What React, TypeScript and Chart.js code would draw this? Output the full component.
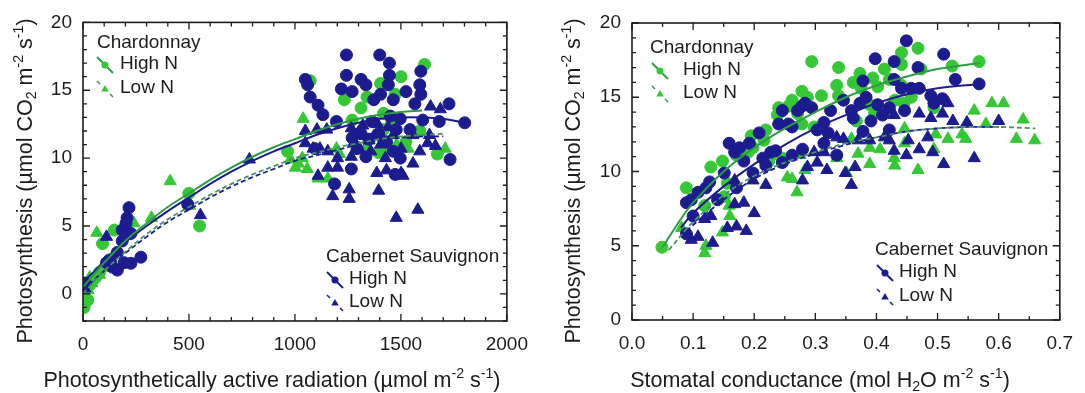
import React, { useEffect, useRef } from "react";
import { Chart, registerables } from "chart.js";

Chart.register(...registerables);

const FONT = "'Liberation Sans', Arial, Helvetica, sans-serif";
const GREEN = "#35c735";
const BLUE = "#1c1c8f";
const GREEN_LINE = "#2c9c46";
const GREEN_DASH = "#4b8f68";
const BLUE_LINE = "#1c1c8c";
const INK = "#1c1c1c";

// ---------- Panel A: photosynthesis vs PAR ----------
const parTicks = [0, 500, 1000, 1500, 2000];
const photoTicksA = [0, 5, 10, 15, 20];

const parChHighX = [5, 9, 14, 23, 32, 46, 60, 78, 92, 148, 499, 550, 965, 1072, 1233, 1270, 1312, 1340, 1395, 1404, 1418, 1418, 1450, 1455, 1473, 1501, 1524, 1589, 1612, 1672];
const parChHighY = [-1.0, -0.2, 0.3, -0.45, 0.65, 1.0, 1.2, 1.6, 3.7, 4.7, 7.4, 5.0, 10.5, 15.7, 14.3, 12.8, 13.7, 14.5, 10.4, 15.5, 13.3, 12.1, 10.7, 12.8, 14.7, 16.0, 11.2, 12.0, 16.9, 10.3];

const parChLowX = [8, 23, 32, 42, 78, 102, 134, 65, 240, 323, 411, 503, 979, 1002, 1016, 1035, 1039, 1058, 1109, 1155, 1196, 1210, 1340, 1418, 1480, 1534, 1709];
const parChLowY = [-0.6, 0.3, 1.2, 0.8, 1.4, 1.9, 2.6, 4.5, 5.2, 5.6, 8.3, 6.5, 9.9, 9.3, 9.6, 10.0, 12.9, 9.2, 8.5, 8.5, 10.7, 10.3, 10.9, 11.5, 11.0, 10.7, 10.7];

const parCsHighX = [9, 111, 125, 139, 162, 162, 185, 185, 194, 203, 208, 217, 226, 226, 273, 494,
  1049, 1060, 1072, 1095, 1109, 1132, 1187, 1196, 1219, 1243, 1243, 1266, 1270, 1270, 1293, 1312, 1312, 1335, 1335, 1349, 1363, 1372, 1395, 1400, 1404, 1432, 1441, 1446, 1446, 1450, 1464, 1464, 1473, 1478, 1497, 1497, 1524, 1543, 1566, 1589, 1594, 1594, 1603, 1681, 1727, 1732, 1801];
const parCsHighY = [0.8, 2.3, 2.5, 1.97, 3.05, 1.75, 4.7, 3.9, 2.3, 5.2, 5.6, 6.35, 4.45, 2.25, 2.7, 6.6,
  15.8, 15.4, 14.5, 10.7, 13.9, 13.2, 8.1, 12.7, 15.1, 17.6, 16.1, 9.2, 14.9, 11.5, 10.7, 15.8, 11.8, 15.4, 10.1, 11.4, 12.7, 14.3, 11.8, 17.6, 14.7, 11.2, 15.4, 17.0, 16.1, 13.1, 14.3, 10.5, 8.8, 12.1, 12.9, 10.0, 14.9, 12.1, 14.0, 15.4, 16.4, 14.7, 12.8, 12.7, 14.0, 9.9, 12.6];

const parCsLowX = [9, 111, 554, 785, 1049, 1049, 1086, 1104, 1109, 1118, 1150, 1155, 1155, 1178, 1201, 1201, 1256, 1256, 1266, 1266, 1280, 1300, 1303, 1320, 1350, 1358, 1372, 1386, 1390, 1395, 1404, 1427, 1432, 1440, 1464, 1478, 1501, 1501, 1510, 1557, 1557, 1580, 1589, 1626, 1635, 1640, 1663, 1686];
const parCsLowY = [0.4, 4.2, 5.8, 9.9, 12.0, 11.1, 10.7, 12.1, 8.7, 10.7, 12.1, 10.5, 9.3, 7.2, 10.0, 9.3, 7.0, 7.7, 12.2, 10.1, 11.2, 11.9, 10.7, 12.4, 11.3, 10.5, 11.6, 8.9, 12.5, 7.6, 11.0, 10.0, 9.1, 12.3, 11.7, 5.6, 10.7, 8.9, 8.7, 11.7, 9.6, 6.2, 10.5, 11.1, 11.7, 13.8, 10.9, 13.6];

// fitted response curves, panel A
const parFitChHighX = [0, 50, 100, 200, 300, 400, 500, 600, 700, 800, 900, 1000, 1100, 1200, 1300, 1400, 1500, 1600];
const parFitChHighY = [0.5, 1.4, 2.3, 3.9, 5.2, 6.4, 7.4, 8.4, 9.3, 10.1, 10.8, 11.4, 12.0, 12.5, 12.9, 13.2, 13.4, 13.5];
const parFitCsHighX = [0, 50, 100, 200, 300, 400, 500, 600, 700, 800, 900, 1000, 1100, 1200, 1300, 1400, 1500, 1600, 1700, 1800];
const parFitCsHighY = [0.9, 1.6, 2.4, 3.8, 5.0, 6.1, 7.1, 8.1, 9.0, 9.8, 10.5, 11.1, 11.7, 12.2, 12.6, 12.9, 13.0, 13.0, 12.9, 12.6];
const parFitLowX = [0, 50, 100, 200, 300, 400, 500, 600, 700, 800, 900, 1000, 1100, 1200, 1300, 1400, 1500, 1600, 1700];
const parFitChLowY = [0.0, 0.9, 1.7, 3.1, 4.4, 5.5, 6.4, 7.3, 8.1, 8.8, 9.4, 10.0, 10.4, 10.8, 11.1, 11.4, 11.6, 11.7, 11.8];
const parFitCsLowY = [0.3, 1.0, 1.7, 3.0, 4.2, 5.3, 6.2, 7.1, 7.9, 8.6, 9.2, 9.8, 10.2, 10.6, 11.0, 11.3, 11.5, 11.6, 11.6];

// ---------- Panel B: photosynthesis vs stomatal conductance ----------
const gsTicks = [0, 0.1, 0.2, 0.3, 0.4, 0.5, 0.6, 0.7];
const photoTicksB = [0, 5, 10, 15, 20];

const gsChHighX = [0.049, 0.089, 0.119, 0.129, 0.148, 0.151, 0.156, 0.171, 0.19, 0.195, 0.198, 0.216, 0.219, 0.224, 0.235, 0.238, 0.24, 0.246, 0.256, 0.262, 0.271, 0.278, 0.278, 0.287, 0.294, 0.298, 0.31, 0.335, 0.338, 0.338, 0.362, 0.367, 0.373, 0.375, 0.389, 0.394, 0.397, 0.402, 0.413, 0.421, 0.421, 0.43, 0.441, 0.441, 0.441, 0.445, 0.457, 0.468, 0.473, 0.494, 0.524, 0.568];
const gsChHighY = [4.9, 8.9, 7.7, 10.3, 10.7, 8.3, 9.2, 11.1, 11.3, 12.4, 11.6, 12.1, 12.8, 10.7, 11.2, 13.8, 14.3, 10.9, 14.4, 14.8, 13.9, 15.4, 13.2, 15.0, 17.4, 13.0, 15.1, 15.8, 17.0, 15.1, 16.0, 13.4, 16.6, 15.6, 14.5, 16.3, 13.9, 15.7, 16.9, 16.2, 14.1, 14.8, 18.0, 17.2, 15.8, 14.6, 15.0, 18.3, 16.9, 14.3, 17.1, 17.4];

const gsChLowX = [0.081, 0.119, 0.121, 0.148, 0.159, 0.16, 0.254, 0.262, 0.27, 0.275, 0.283, 0.335, 0.351, 0.359, 0.37, 0.389, 0.389, 0.406, 0.429, 0.43, 0.446, 0.446, 0.468, 0.494, 0.497, 0.517, 0.54, 0.546, 0.56, 0.579, 0.589, 0.608, 0.629, 0.64, 0.659];
const gsChLowY = [6.2, 4.5, 5.0, 5.9, 7.7, 7.0, 9.6, 9.5, 8.6, 11.1, 10.1, 10.9, 9.9, 12.2, 11.2, 11.6, 10.5, 11.5, 10.9, 10.4, 12.9, 11.9, 10.1, 11.5, 12.5, 12.2, 12.5, 12.2, 14.1, 13.2, 14.6, 14.6, 12.2, 13.5, 12.1];

const gsCsHighX = [0.089, 0.089, 0.097, 0.1, 0.108, 0.121, 0.127, 0.14, 0.151, 0.159, 0.168, 0.171, 0.176, 0.183, 0.192, 0.198, 0.208, 0.214, 0.219, 0.227, 0.235, 0.24, 0.246, 0.246, 0.256, 0.262, 0.262, 0.271, 0.278, 0.279, 0.283, 0.294, 0.303, 0.314, 0.314, 0.321, 0.325, 0.335, 0.346, 0.359, 0.362, 0.373, 0.378, 0.378, 0.383, 0.391, 0.398, 0.402, 0.41, 0.421, 0.421, 0.429, 0.429, 0.441, 0.446, 0.449, 0.457, 0.468, 0.47, 0.489, 0.494, 0.508, 0.51, 0.529, 0.568];
const gsCsHighY = [5.8, 7.9, 8.1, 7.0, 8.6, 8.9, 9.3, 8.1, 9.9, 11.9, 11.3, 8.9, 11.6, 10.7, 11.9, 9.9, 12.6, 10.9, 10.4, 11.3, 11.4, 13.2, 14.1, 10.6, 13.2, 13.0, 11.1, 14.1, 14.4, 11.5, 14.6, 14.3, 12.8, 13.3, 11.9, 12.6, 14.1, 11.1, 14.8, 14.1, 13.6, 14.6, 16.1, 12.7, 15.0, 13.4, 17.6, 14.5, 13.8, 14.3, 12.8, 17.4, 16.2, 15.6, 14.1, 18.8, 15.6, 17.0, 15.6, 15.1, 14.6, 14.9, 17.9, 16.2, 15.9];

const gsCsLowX = [0.097, 0.108, 0.119, 0.129, 0.132, 0.156, 0.168, 0.168, 0.171, 0.183, 0.187, 0.198, 0.2, 0.219, 0.279, 0.287, 0.298, 0.303, 0.314, 0.319, 0.335, 0.346, 0.349, 0.359, 0.365, 0.37, 0.389, 0.413, 0.421, 0.429, 0.429, 0.449, 0.452, 0.47, 0.47, 0.484, 0.489, 0.492, 0.508, 0.51, 0.517, 0.525, 0.548, 0.56, 0.6];
const gsCsLowY = [5.4, 5.6, 6.8, 7.0, 5.2, 6.2, 9.4, 7.8, 6.3, 7.9, 6.0, 9.4, 7.2, 9.1, 9.4, 10.3, 11.3, 10.6, 11.3, 10.1, 12.3, 12.2, 9.9, 9.1, 10.3, 12.1, 12.1, 12.3, 12.1, 13.8, 11.4, 11.1, 12.1, 13.9, 11.5, 12.3, 13.6, 11.3, 13.9, 10.5, 14.6, 13.4, 13.3, 10.9, 13.4];

// fitted response curves, panel B
const gsFitChHighX = [0.05, 0.08, 0.1, 0.15, 0.2, 0.25, 0.3, 0.35, 0.4, 0.45, 0.5, 0.57];
const gsFitChHighY = [4.9, 6.8, 7.9, 10.0, 11.6, 12.9, 14.0, 15.0, 15.8, 16.4, 16.9, 17.3];
const gsFitCsHighX = [0.08, 0.1, 0.15, 0.2, 0.25, 0.3, 0.35, 0.4, 0.45, 0.5, 0.57];
const gsFitCsHighY = [6.2, 7.2, 9.0, 10.5, 11.8, 12.9, 13.8, 14.6, 15.2, 15.6, 15.9];
const gsFitChLowX = [0.06, 0.1, 0.15, 0.2, 0.25, 0.3, 0.35, 0.4, 0.45, 0.5, 0.55, 0.6, 0.66];
const gsFitChLowY = [4.7, 6.6, 8.4, 9.7, 10.6, 11.3, 11.9, 12.3, 12.7, 12.9, 13.0, 13.0, 12.9];
const gsFitCsLowX = [0.08, 0.1, 0.15, 0.2, 0.25, 0.3, 0.35, 0.4, 0.45, 0.5, 0.55, 0.6];
const gsFitCsLowY = [5.6, 6.4, 8.1, 9.5, 10.5, 11.2, 11.8, 12.3, 12.7, 12.9, 13.0, 13.0];

// ---------- helpers ----------
type Seg = [string, number]; // 0 = normal, 1 = subscript, 2 = superscript

const yTitle: Seg[] = [["Photosynthesis (\u00b5mol CO", 0], ["2", 1], [" m", 0], ["-2", 2], [" s", 0], ["-1", 2], [")", 0]];
const parTitle: Seg[] = [["Photosynthetically active radiation (\u00b5mol m", 0], ["-2", 2], [" s", 0], ["-1", 2], [")", 0]];
const gsTitle: Seg[] = [["Stomatal conductance (mol H", 0], ["2", 1], ["O m", 0], ["-2", 2], [" s", 0], ["-1", 2], [")", 0]];

const pts = (xs: number[], ys: number[]) => xs.map((x, i) => ({ x, y: ys[i] }));

function drawRich(ctx: CanvasRenderingContext2D, segs: Seg[], cx: number, cy: number, size: number, rotate: boolean) {
  ctx.save();
  ctx.translate(cx, cy);
  if (rotate) ctx.rotate(-Math.PI / 2);
  const small = size * 0.66;
  const fontFor = (k: number) => `${k ? small : size}px ${FONT}`;
  let total = 0;
  for (const [t, k] of segs) {
    ctx.font = fontFor(k);
    total += ctx.measureText(t).width;
  }
  let x = -total / 2;
  ctx.textAlign = "left";
  ctx.textBaseline = "alphabetic";
  ctx.fillStyle = INK;
  const base = size * 0.36;
  for (const [t, k] of segs) {
    ctx.font = fontFor(k);
    const dy = k === 1 ? size * 0.22 : k === 2 ? -size * 0.4 : 0;
    ctx.fillText(t, x, base + dy);
    x += ctx.measureText(t).width;
  }
  ctx.restore();
}

function marker(ctx: CanvasRenderingContext2D, shape: string, x: number, y: number, r: number, color: string) {
  ctx.fillStyle = color;
  ctx.beginPath();
  if (shape === "circle") {
    ctx.arc(x, y, r, 0, Math.PI * 2);
  } else {
    ctx.moveTo(x, y - r);
    ctx.lineTo(x + r * 0.95, y + r * 0.6);
    ctx.lineTo(x - r * 0.95, y + r * 0.6);
    ctx.closePath();
  }
  ctx.fill();
}

type KeyBlock = {
  title: string; titleX: number; titleY: number; textX: number; symX: number; rows: number[];
  color: string; solid: string; dash: string;
};

function drawKey(ctx: CanvasRenderingContext2D, k: KeyBlock) {
  ctx.save();
  ctx.fillStyle = INK;
  ctx.font = `19px ${FONT}`;
  ctx.textBaseline = "middle";
  ctx.textAlign = "left";
  ctx.fillText(k.title, k.titleX, k.titleY);
  ctx.fillText("High N", k.textX, k.rows[0]);
  ctx.fillText("Low N", k.textX, k.rows[1]);
  // solid line with circle
  const sx = k.symX;
  let sy = k.rows[0] + 1;
  ctx.strokeStyle = k.solid;
  ctx.lineWidth = 2;
  ctx.beginPath();
  ctx.moveTo(sx - 8, sy - 8);
  ctx.lineTo(sx + 8, sy + 8);
  ctx.stroke();
  marker(ctx, "circle", sx, sy, 3.5, k.color);
  // dashed line with triangle
  sy = k.rows[1] + 1;
  ctx.strokeStyle = k.dash;
  ctx.lineWidth = 1.5;
  ctx.beginPath();
  ctx.moveTo(sx - 8, sy - 8);
  ctx.lineTo(sx - 5, sy - 5);
  ctx.moveTo(sx + 5, sy + 5);
  ctx.lineTo(sx + 8, sy + 8);
  ctx.stroke();
  marker(ctx, "triangle", sx, sy, 4, k.color);
  ctx.restore();
}

type PanelSpec = {
  width: number; left: number;
  padTop: number; padRight: number; axisLeft: number; axisBottom: number;
  xMin: number; xMax: number; yMin: number; yMax: number;
  xTicks: number[]; yTicks: number[]; xMinorStep: number; yMinorStep: number;
  xDigits: number;
  xTitle: Seg[]; xTitleX: number; yTitleX: number;
  keys: KeyBlock[];
  datasets: any[];
};

function decorPlugin(p: PanelSpec) {
  return {
    id: "decor",
    afterDatasetsDraw(chart: any) {
      const { ctx, chartArea: a } = chart;
      const xs = chart.scales.x;
      const ys = chart.scales.y;
      ctx.save();
      ctx.strokeStyle = INK;
      ctx.lineWidth = 1.6;
      ctx.strokeRect(a.left, a.top, a.right - a.left, a.bottom - a.top);
      ctx.lineWidth = 1.3;
      ctx.beginPath();
      const nx = Math.round((p.xMax - p.xMin) / p.xMinorStep);
      for (let i = 0; i <= nx; i++) {
        const v = p.xMin + i * p.xMinorStep;
        const major = p.xTicks.some((t) => Math.abs(t - v) < 1e-9);
        const len = major ? 7 : 4;
        const px = xs.getPixelForValue(v);
        ctx.moveTo(px, a.bottom);
        ctx.lineTo(px, a.bottom - len);
        ctx.moveTo(px, a.top);
        ctx.lineTo(px, a.top + len);
      }
      const ny = Math.round((p.yMax - p.yMin) / p.yMinorStep);
      for (let i = 0; i <= ny; i++) {
        const v = p.yMin + i * p.yMinorStep;
        const major = p.yTicks.some((t) => Math.abs(t - v) < 1e-9);
        const len = major ? 7 : 4;
        const py = ys.getPixelForValue(v);
        ctx.moveTo(a.left, py);
        ctx.lineTo(a.left + len, py);
        ctx.moveTo(a.right, py);
        ctx.lineTo(a.right - len, py);
      }
      ctx.stroke();
      ctx.restore();

      for (const k of p.keys) drawKey(ctx, k);
      drawRich(ctx, p.xTitle, p.xTitleX, 379, 21.5, false);
      drawRich(ctx, yTitle, p.yTitleX, 181, 21.5, true);
    },
  };
}

function buildConfig(p: PanelSpec): any {
  const tickFont = { family: FONT, size: 19 };
  return {
    type: "scatter",
    data: { datasets: p.datasets },
    options: {
      responsive: false,
      animation: false,
      events: [],
      layout: { padding: { top: p.padTop, right: p.padRight, left: 0, bottom: 0 } },
      plugins: { legend: { display: false }, tooltip: { enabled: false } },
      scales: {
        x: {
          type: "linear",
          min: p.xMin,
          max: p.xMax,
          afterBuildTicks: (s: any) => {
            s.ticks = p.xTicks.map((v) => ({ value: v }));
          },
          afterFit: (s: any) => {
            s.height = p.axisBottom;
          },
          grid: { display: false, drawTicks: false },
          border: { display: false },
          ticks: {
            font: tickFont,
            color: INK,
            padding: 12,
            maxRotation: 0,
            autoSkip: false,
            callback: (v: number) => Number(v).toFixed(p.xDigits),
          },
        },
        y: {
          type: "linear",
          min: p.yMin,
          max: p.yMax,
          afterBuildTicks: (s: any) => {
            s.ticks = p.yTicks.map((v) => ({ value: v }));
          },
          afterFit: (s: any) => {
            s.width = p.axisLeft;
          },
          grid: { display: false, drawTicks: false },
          border: { display: false },
          ticks: {
            font: tickFont,
            color: INK,
            padding: 11,
            autoSkip: false,
            callback: (v: number) => String(v),
          },
        },
      },
    },
    plugins: [decorPlugin(p)],
  };
}

function fitLine(data: { x: number; y: number }[], color: string, dashed: boolean) {
  return {
    data,
    showLine: true,
    borderColor: color,
    borderWidth: dashed ? 1.8 : 2,
    borderDash: dashed ? [5, 3] : [],
    pointRadius: 0,
    tension: 0.35,
    fill: false,
  };
}

function scatter(data: { x: number; y: number }[], color: string, shape: string) {
  return {
    data,
    showLine: false,
    pointStyle: shape,
    pointRadius: shape === "circle" ? 6 : 7,
    backgroundColor: color,
    borderColor: color,
    borderWidth: 1,
  };
}

const panelA: PanelSpec = {
  width: 540, left: 0,
  padTop: 20, padRight: 24, axisLeft: 83, axisBottom: 72,
  xMin: 0, xMax: 2000, yMin: -2, yMax: 20,
  xTicks: parTicks, yTicks: photoTicksA, xMinorStep: 100, yMinorStep: 1,
  xDigits: 0,
  xTitle: parTitle, xTitleX: 272, yTitleX: 24,
  keys: [
    { title: "Chardonnay", titleX: 97, titleY: 43, textX: 120, symX: 105, rows: [64, 88], color: GREEN, solid: GREEN_LINE, dash: GREEN_DASH },
    { title: "Cabernet Sauvignon", titleX: 326, titleY: 257, textX: 349, symX: 335, rows: [279, 302], color: BLUE, solid: BLUE_LINE, dash: BLUE_LINE },
  ],
  datasets: [
    fitLine(pts(parFitChHighX, parFitChHighY), GREEN_LINE, false),
    fitLine(pts(parFitCsHighX, parFitCsHighY), BLUE_LINE, false),
    fitLine(pts(parFitLowX, parFitChLowY), GREEN_DASH, true),
    fitLine(pts(parFitLowX, parFitCsLowY), BLUE_LINE, true),
    scatter(pts(parCsHighX, parCsHighY), BLUE, "circle"),
    scatter(pts(parCsLowX, parCsLowY), BLUE, "triangle"),
    scatter(pts(parChHighX, parChHighY), GREEN, "circle"),
    scatter(pts(parChLowX, parChLowY), GREEN, "triangle"),
  ],
};

const panelB: PanelSpec = {
  width: 545, left: 540,
  padTop: 23, padRight: 12, axisLeft: 92, axisBottom: 73,
  xMin: 0, xMax: 0.7, yMin: 0, yMax: 20,
  xTicks: gsTicks, yTicks: photoTicksB, xMinorStep: 0.05, yMinorStep: 1,
  xDigits: 1,
  xTitle: gsTitle, xTitleX: 280, yTitleX: 32,
  keys: [
    { title: "Chardonnay", titleX: 110, titleY: 48, textX: 143, symX: 120, rows: [70, 93], color: GREEN, solid: GREEN_LINE, dash: GREEN_DASH },
    { title: "Cabernet Sauvignon", titleX: 335, titleY: 250, textX: 359, symX: 345, rows: [272, 296], color: BLUE, solid: BLUE_LINE, dash: BLUE_LINE },
  ],
  datasets: [
    fitLine(pts(gsFitChHighX, gsFitChHighY), GREEN_LINE, false),
    fitLine(pts(gsFitCsHighX, gsFitCsHighY), BLUE_LINE, false),
    fitLine(pts(gsFitChLowX, gsFitChLowY), GREEN_DASH, true),
    fitLine(pts(gsFitCsLowX, gsFitCsLowY), BLUE_LINE, true),
    scatter(pts(gsCsHighX, gsCsHighY), BLUE, "circle"),
    scatter(pts(gsCsLowX, gsCsLowY), BLUE, "triangle"),
    scatter(pts(gsChHighX, gsChHighY), GREEN, "circle"),
    scatter(pts(gsChLowX, gsChLowY), GREEN, "triangle"),
  ],
};

function Panel({ spec }: { spec: PanelSpec }) {
  const ref = useRef<HTMLCanvasElement>(null);
  useEffect(() => {
    const chart = new Chart(ref.current as HTMLCanvasElement, buildConfig(spec));
    return () => chart.destroy();
  }, [spec]);
  return (
    <canvas
      ref={ref}
      width={spec.width}
      height={393}
      style={{ position: "absolute", left: spec.left, top: 0, width: spec.width, height: 393 }}
    />
  );
}

export default function App() {
  return (
    <div style={{ position: "absolute", left: 0, top: 0, width: 1085, height: 393, background: "#fff" }}>
      <Panel spec={panelA} />
      <Panel spec={panelB} />
    </div>
  );
}
